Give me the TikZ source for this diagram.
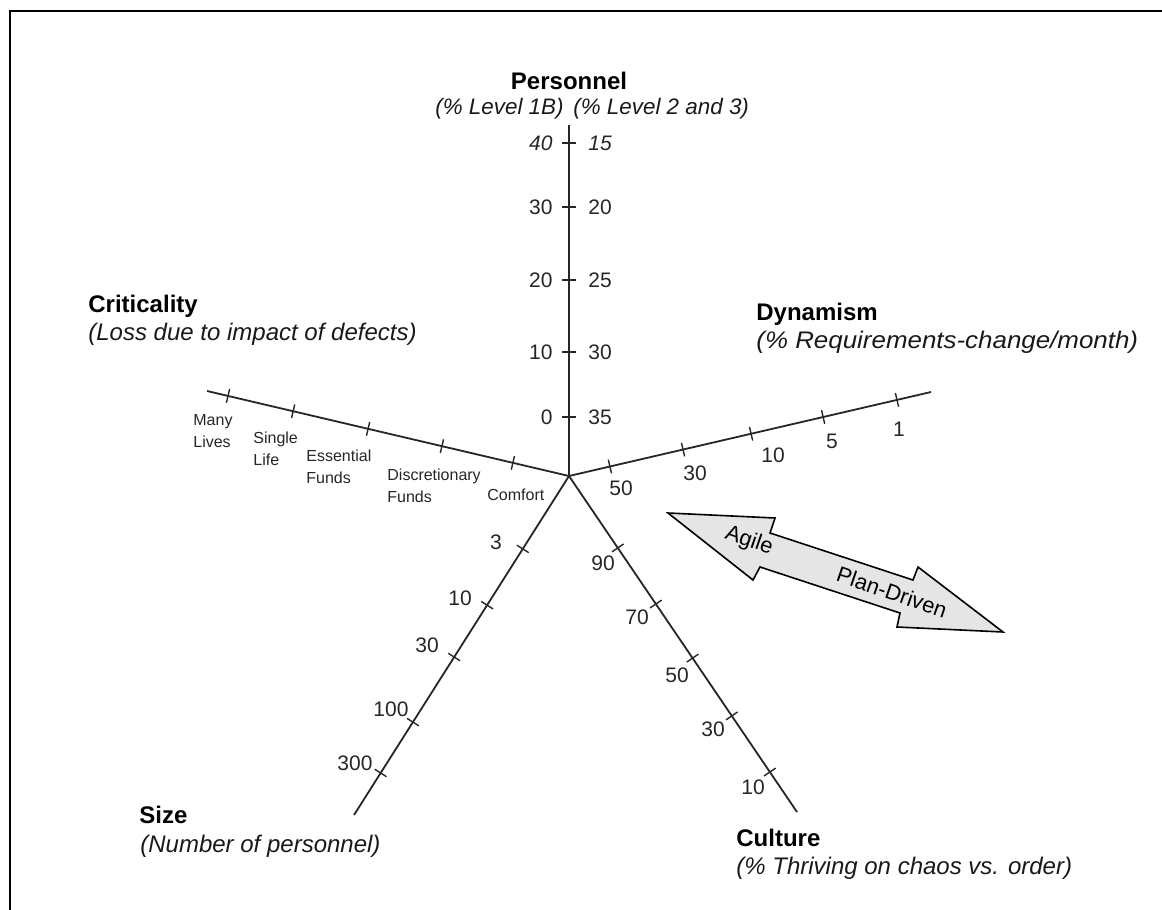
\documentclass[tikz,border=0pt]{standalone}
\usepackage{fontspec}
\usepackage{graphicx}
\setmainfont{Liberation Sans}
\usetikzlibrary{calc}

\begin{document}
\begin{tikzpicture}[x=0.5pt, y=-0.5pt,
    every node/.style={inner sep=0pt},
    axis/.style={line width=0.9pt, black!85},
    axtick/.style={line width=0.7pt, black!85},
    title/.style={anchor=base west, font=\fontsize{12}{14}\selectfont\bfseries},
    sub/.style={anchor=base west, font=\fontsize{12}{14}\selectfont\itshape, text=black!90},
    num/.style={font=\fontsize{10.5}{12}\selectfont, text=black!85},
    lvl/.style={font=\fontsize{8}{11}\selectfont, align=left, anchor=west, text=black!85}]
  \useasboundingbox (0,0) rectangle (1162,910);
  \draw[line width=1.4pt] (10,910) -- (10,11) -- (1162,11);

  % axes
  \coordinate (O) at (569,476);
  \coordinate (pers) at (569,125);
  \coordinate (crit) at (207,391);
  \coordinate (dyn) at (931,392);
  \coordinate (size) at (354,815);
  \coordinate (cult) at (797,812);
  \foreach \e in {pers,crit,dyn,size,cult}
    \draw[axis] (O) -- (\e);

  % ticks
  \foreach \e/\fl in {pers/{0.168,0.353,0.558,0.766,0.949},
                      crit/{0.155,0.351,0.555,0.762,0.942},
                      dyn/{0.113,0.315,0.503,0.702,0.906},
                      size/{0.215,0.381,0.534,0.726,0.876},
                      cult/{0.214,0.381,0.542,0.714,0.881}}
    \foreach \f in \fl
      \draw[axtick] ($(O)!\f!(\e)!3.5pt!90:(\e)$) -- ($(O)!\f!(\e)!3.5pt!-90:(\e)$);

  % personnel scale
  \foreach \f/\l/\r [count=\i] in {0.168/0/35, 0.353/10/30, 0.558/20/25,
                                   0.766/30/20, 0.949/\textit{40}/\textit{15}} {
    \node[num, anchor=east] (pl\i) at ($(O)!\f!(pers)+(-16,0)$) {\l};
    \node[num, anchor=west] (pr\i) at ($(O)!\f!(pers)+(19,0)$) {\r};
  }

  % criticality scale
  \node[lvl] (many) at (193,431) {Many\\Lives};
  \node[lvl] (single) at (253,449) {Single\\Life};
  \node[lvl] (essential) at (306,467) {Essential\\Funds};
  \node[lvl] (discr) at (387,486) {Discretionary\\Funds};
  \node[lvl] (comfort) at (487,495) {Comfort};

  % dynamism, size and culture scales
  \foreach \x/\y/\t [count=\i] in {621/488/50, 695/473/30, 773/455/10, 832/441/5, 899/429/1}
    \node[num] (d\i) at (\x,\y) {\t};
  \foreach \x/\y/\t [count=\i] in {496/542/3, 460/598/10, 427/645/30, 391/709/100, 355/763/300}
    \node[num] (s\i) at (\x,\y) {\t};
  \foreach \x/\y/\t [count=\i] in {603/563/90, 637/617/70, 677/675/50, 713/729/30, 753/787/10}
    \node[num] (c\i) at (\x,\y) {\t};

  % axis titles
  \node[title, anchor=base] (perst) at (569,89) {Personnel};
  \node[sub, anchor=base east, font=\fontsize{11.2}{13}\selectfont\itshape] (persa) at (564,114) {(\% Level 1B)};
  \node[sub, font=\fontsize{11.2}{13}\selectfont\itshape] (persb) at (573,114) {(\% Level 2 and 3)};
  \node[title] (critt) at (88,312) {Criticality};
  \node[sub] (crits) at (88,340) {(Loss due to impact of defects)};
  \node[title] (dynt) at (756,320) {Dynamism};
  \node[sub] (dyns) at (756,348) {\scalebox{1.08}[1]{(\% Requirements-change/month)}};
  \node[title] (sizet) at (139,823) {Size};
  \node[sub] (sizes) at (140,852) {(Number of personnel)};
  \node[title] (cultt) at (736,846) {Culture};
  \node[sub] (cults) at (736,874) {(\% Thriving on chaos vs. order)};

  % agile vs plan-driven arrow
  \draw[line width=0.8pt, fill=gray!20] (668,513) -- (775,518) -- (770,533) -- (913,580)
    -- (918,567) -- (1003,632) -- (897,627) -- (900,613) -- (760,567) -- (753,580) -- cycle;
  \node[font=\fontsize{11}{13}\selectfont, rotate=-19] (agile) at (749,541) {Agile};
  \node[font=\fontsize{11}{13}\selectfont, rotate=-19] (plan) at (892,592) {Plan-Driven};
\end{tikzpicture}
\end{document}
